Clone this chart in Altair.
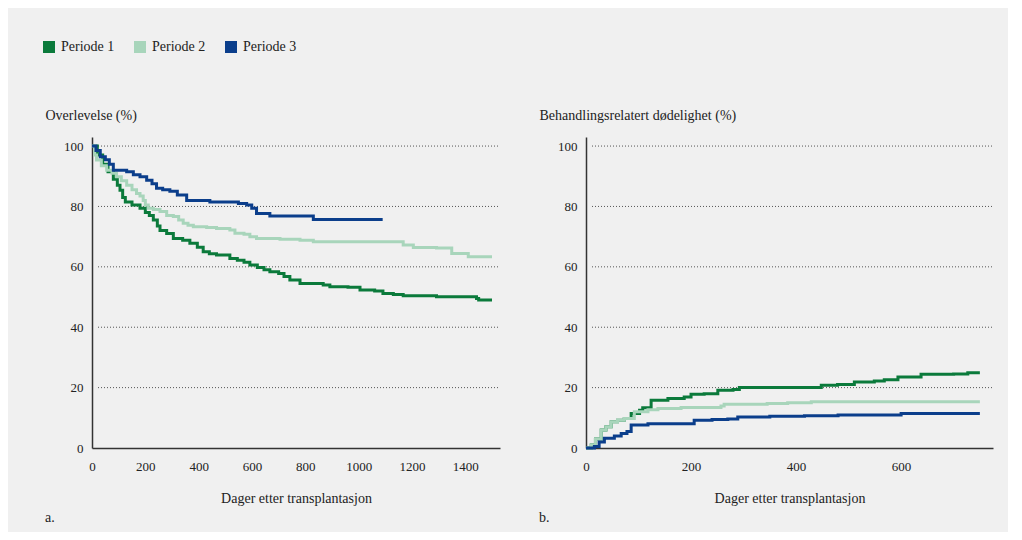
import altair as alt
import pandas as pd

FONT = "Liberation Serif"
SERIES = ["Periode 1", "Periode 2", "Periode 3"]
COLORS = ["#0b7a3b", "#a8d5bb", "#0b3e8b"]

# ---- Panel a: Overlevelse (%) ----
a_p1_day = [0, 20, 40, 60, 80, 95, 105, 115, 125, 150, 180, 200, 215, 230, 245, 255, 280, 305, 340, 367,
            395, 417, 440, 467, 517, 545, 570, 592, 620, 645, 667, 700, 720, 742, 780, 867, 892, 960,
            1005, 1060, 1091, 1130, 1167, 1292, 1442, 1450, 1500]
a_p1_val = [100, 97, 94, 91.5, 89, 87, 85.4, 83, 81.5, 80.5, 79.4, 78, 77, 75.5, 73.5, 72, 71, 69.4, 68.8, 67.8,
            66.5, 65, 64.3, 63.9, 62.8, 62.2, 61.5, 60.6, 59.8, 59.0, 58.4, 57.8, 56.8, 55.6, 54.5, 54, 53.4, 53.2,
            52.3, 52, 51.2, 50.8, 50.4, 50.1, 49.5, 49, 49]
a_p2_day = [0, 10, 17, 35, 55, 75, 92, 110, 130, 150, 167, 180, 192, 200, 211, 230, 255, 280, 305, 325, 342,
            360, 380, 430, 467, 517, 536, 570, 592, 617, 705, 780, 830, 1142, 1167, 1205, 1292, 1349, 1411, 1500]
a_p2_val = [100, 97, 95.4, 93.5, 92, 91, 89.8, 88.5, 87, 85.5, 84.3, 83.5, 82, 80.5, 79.4, 79, 78.3, 77, 76.7,
            75.5, 74.4, 73.8, 73.3, 73, 72.7, 72.2, 71.1, 70.8, 70, 69.4, 69.1, 68.8, 68.3, 68.3, 67.2, 66.4,
            66.2, 64.4, 63.3, 63.3]
a_p3_day = [0, 15, 31, 50, 65, 80, 130, 155, 180, 205, 225, 242, 265, 292, 320, 355, 400, 442, 549, 580, 599,
            617, 667, 830, 1090]
a_p3_val = [100, 98.5, 96.5, 95.5, 94, 92, 91.5, 90.5, 89.8, 88.7, 87.5, 86, 85.5, 85, 83.8, 82, 82, 81.5, 81,
            80.5, 79.4, 77.7, 76.8, 75.7, 75.7]

# ---- Panel b: Behandlingsrelatert dødelighet (%) ----
b_p1_day = [0, 10, 18, 29, 38, 48, 60, 73, 86, 102, 108, 124, 156, 187, 200, 225, 251, 280, 292, 422, 448,
            479, 511, 549, 568, 594, 638, 700, 727, 750]
b_p1_val = [0, 1, 3, 6, 7, 8.7, 9.2, 9.8, 11.4, 12.5, 13.3, 15.8, 16.4, 16.9, 17.8, 18, 19.1, 19.4, 20, 20,
            20.8, 21, 21.9, 22.2, 22.6, 23.5, 24.4, 24.5, 24.9, 24.9]
b_p2_day = [0, 10, 18, 29, 38, 48, 60, 73, 92, 118, 137, 181, 257, 263, 345, 384, 429, 750]
b_p2_val = [0, 1, 3, 6, 7, 8.7, 9.2, 9.8, 12, 12.7, 13.1, 13.4, 13.9, 14.5, 14.7, 15, 15.3, 15.3]
b_p3_day = [0, 16, 25, 35, 54, 67, 78, 86, 118, 194, 206, 240, 270, 289, 350, 416, 480, 600, 750]
b_p3_val = [0, 0.5, 2, 3.2, 4, 4.8, 5.5, 7.6, 8.0, 8, 9.2, 9.4, 9.6, 10.3, 10.5, 10.7, 10.9, 11.4, 11.4]

GRID_VALUES = [20, 40, 60, 80, 100]
Y_TICKS = [0, 20, 40, 60, 80, 100]
A_X_TICKS = [0, 200, 400, 600, 800, 1000, 1200, 1400]
B_X_TICKS = [0, 200, 400, 600]


def frame(days, vals, name):
    return pd.DataFrame({"day": days, "val": vals, "serie": name})


df_a = pd.concat([frame(a_p1_day, a_p1_val, SERIES[0]),
                  frame(a_p2_day, a_p2_val, SERIES[1]),
                  frame(a_p3_day, a_p3_val, SERIES[2])])
df_b = pd.concat([frame(b_p1_day, b_p1_val, SERIES[0]),
                  frame(b_p2_day, b_p2_val, SERIES[1]),
                  frame(b_p3_day, b_p3_val, SERIES[2])])
df_a["order"] = df_a["serie"].map({s: i for i, s in enumerate(SERIES)})
df_b["order"] = df_b["serie"].map({s: i for i, s in enumerate(SERIES)})

PLOT_H = 311
legend = alt.Legend(title=None, orient="none", legendX=-50, legendY=-97, direction="horizontal",
                    symbolType="square", symbolSize=36, symbolStrokeWidth=6, labelFont=FONT,
                    labelFontSize=14, labelColor="#222", columnPadding=10, labelOffset=5)
color = alt.Color("serie:N", scale=alt.Scale(domain=SERIES, range=COLORS), legend=legend)


def y_axis(title):
    return alt.Axis(
        values=Y_TICKS, ticks=False, grid=False, domainColor="#333", domainWidth=1.5,
        labelFont=FONT, labelFontSize=13, labelColor="#222", labelPadding=9,
        title=title, titleFont=FONT, titleFontSize=14, titleFontWeight="normal",
        titleColor="#222", titleAngle=0, titleAlign="left", titleBaseline="middle",
        titleX=-47, titleY=-22)


def panel(df, width, xmax, xticks, ytitle, letter):
    xs = alt.Scale(domain=[0, xmax], nice=False)
    ys = alt.Scale(domain=[0, 103], nice=False)
    grid = alt.Chart(pd.DataFrame({"g": GRID_VALUES})).mark_rule(
        color="#555", strokeWidth=1, strokeDash=[1, 2]
    ).encode(y=alt.Y("g:Q", scale=ys, axis=y_axis(ytitle)), x=alt.value(6), x2=alt.value(width))
    lines = alt.Chart(df).mark_line(interpolate="step-after", strokeWidth=3).encode(
        x=alt.X("day:Q", scale=xs, axis=alt.Axis(
            values=xticks, format="d", ticks=False, grid=False, domainColor="#333", domainWidth=1.5,
            labelFont=FONT, labelFontSize=13, labelColor="#222", labelPadding=12,
            title="Dager etter transplantasjon", titleFont=FONT, titleFontSize=14,
            titleFontWeight="normal", titleColor="#222", titlePadding=18, labelFlush=False)),
        y=alt.Y("val:Q", scale=ys, axis=y_axis(ytitle)),
        color=color,
        detail="serie:N",
        order="order:Q",
    )
    label = alt.Chart(pd.DataFrame({"t": [letter]})).mark_text(
        font=FONT, fontSize=14, color="#222", align="left", baseline="middle"
    ).encode(text="t:N", x=alt.value(-47), y=alt.value(PLOT_H + 70))
    return alt.layer(grid, lines, label).properties(width=width, height=PLOT_H)


pa = panel(df_a, 408, 1530, A_X_TICKS, "Overlevelse (%)", "a.")
pb = panel(df_b, 407, 775, B_X_TICKS, "Behandlingsrelatert dødelighet (%)", "b.")

chart = alt.hconcat(pa, pb, spacing=38).resolve_scale(color="shared").properties(
    background="#f0f0f0",
    padding={"left": 34, "top": 32, "right": 14, "bottom": 7},
).configure_view(stroke=None)

chart.save("out.html", embed_options={"renderer": "svg", "actions": False})
